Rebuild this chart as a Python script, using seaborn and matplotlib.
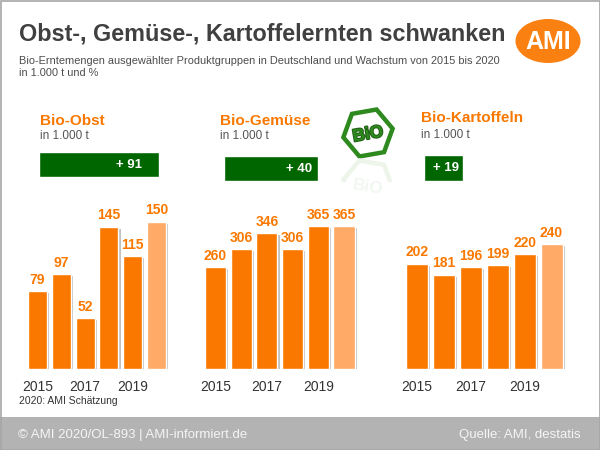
import numpy as np
import pandas as pd
import matplotlib
matplotlib.use("Agg")
import matplotlib.pyplot as plt
import matplotlib.patheffects as pe
from matplotlib.patches import Rectangle, Ellipse, Polygon
import seaborn as sns

# ---------------- data ----------------
years = ["2015", "2016", "2017", "2018", "2019", "2020"]
obst = [79, 97, 52, 145, 115, 150]
gemuese = [260, 306, 346, 306, 365, 365]
kartoffeln = [202, 181, 196, 199, 220, 240]
growth = [91, 40, 19]
panel_titles = ["Bio-Obst", "Bio-Gemüse", "Bio-Kartoffeln"]
unit_label = "in 1.000 t"
title = "Obst-, Gemüse-, Kartoffelernten schwanken"
subtitle = ("Bio-Erntemengen ausgewählter Produktgruppen in Deutschland und Wachstum von 2015 bis 2020\n"
            "in 1.000 t und %")
note = "2020: AMI Schätzung"
footer_left = "© AMI 2020/OL-893 | AMI-informiert.de"
footer_right = "Quelle: AMI, destatis"

# ---------------- style ----------------
sns.set_theme(style="white")
plt.rcParams["font.family"] = ["Liberation Sans", "DejaVu Sans"]

ORANGE = "#FA7800"
ORANGE_LIGHT = "#FFAA66"
GREEN = "#006600"
LOGO_GREEN = "#2E8A1F"
DARK = "#404040"
W, H = 600, 450

fig = plt.figure(figsize=(6, 4.5), dpi=100)
fig.patch.set_facecolor("white")


def px_axes(left, top, right, bottom, z=2):
    ax = fig.add_axes([left / W, 1 - bottom / H, (right - left) / W, (bottom - top) / H])
    ax.set_zorder(z)
    ax.patch.set_alpha(0)
    return ax


# background / decoration layer in pixel coordinates
bg = fig.add_axes([0, 0, 1, 1])
bg.set_zorder(0)
bg.set_xlim(0, W)
bg.set_ylim(H, 0)
bg.axis("off")

bg.add_patch(Rectangle((0, 417), W, 33, facecolor="#B3B3B3", edgecolor="none"))
bg.add_patch(Rectangle((0.5, 0.5), W - 1, H - 1, fill=False, edgecolor="#A6A6A6", lw=1.2))

bg.text(19, 34, title, fontsize=16.8, fontweight="bold", color=DARK, ha="left", va="center")
bg.text(19, 67, subtitle, fontsize=7.9, color="#4D4D4D", ha="left", va="center", linespacing=1.3)

bg.add_patch(Ellipse((548, 41), 65, 44, facecolor="#F98011", edgecolor="none"))
bg.text(548, 42, "AMI", fontsize=18, fontweight="bold", color="white", ha="center", va="center")

# BIO logo (hexagon, pixel coordinates)
cx, cy, rad = 368, 133, 25
ang = np.deg2rad(np.arange(6) * 60 - 10)
hex_pts = np.column_stack([cx + rad * np.cos(ang), cy + rad * np.sin(ang)])
bg.add_patch(Polygon(hex_pts, closed=True, facecolor="white", edgecolor=LOGO_GREEN, lw=3.2,
                     joinstyle="miter"))
bg.text(cx, cy + 1.5, "BiO", fontsize=12.5, fontweight="bold", color=LOGO_GREEN,
        ha="center", va="center", rotation=10,
        path_effects=[pe.withStroke(linewidth=1.4, foreground="#1E5E12")])
axis_y = hex_pts[:, 1].max() + 2
refl_pts = hex_pts.copy()
refl_pts[:, 1] = 2 * axis_y - refl_pts[:, 1]
refl = Polygon(refl_pts, closed=True, facecolor="none", edgecolor="#EDF5EB", lw=3.2)
bg.add_patch(refl)
refl.set_clip_path(Rectangle((330, axis_y), 80, 24, transform=bg.transData))
rtxt = bg.text(cx, 2 * axis_y - cy + 3, "BiO", fontsize=12.5, fontweight="bold", color="#F1F7F0",
               ha="center", va="center", rotation=-10)
rtxt.set_clip_path(Rectangle((330, axis_y), 80, 24, transform=bg.transData))

bg.text(19, 401, note, fontsize=7.5, color="#333333", ha="left", va="center")
bg.text(18, 435, footer_left, fontsize=9.5, color="#F5F5F5", ha="left", va="center")
bg.text(581, 435, footer_right, fontsize=9.5, color="#F5F5F5", ha="right", va="center")

# panel headers
header_pos = [(40, 121, 136), (220, 121, 136), (421, 118, 135)]
for (x, yt, yu), t in zip(header_pos, panel_titles):
    bg.text(x, yt, t, fontsize=11, fontweight="bold", color=ORANGE, ha="left", va="center")
    bg.text(x, yu, unit_label, fontsize=8.5, color="#555555", ha="left", va="center")

shadow = [pe.SimplePatchShadow(offset=(1.5, -1.5), shadow_rgbFace="#777777", alpha=0.45), pe.Normal()]

# green growth boxes
box_ext = [(39, 152, 159, 177), (224, 156, 318, 181), (424, 155, 463, 181)]
text_inset = [12, 4, 3]
for (l, t, r, b), g, ins in zip(box_ext, growth, text_inset):
    ax = px_axes(l, t, r, b, z=3)
    sns.barplot(x=[g], y=[0], orient="h", color=GREEN, width=1.0, ax=ax, saturation=1)
    ax.set_xlim(0, g)
    ax.set_ylim(0.5, -0.5)
    ax.axis("off")
    for p in ax.patches:
        p.set_path_effects(shadow)
    ax.annotate(f"+ {g}", xy=(g, 0), xytext=(-ins, 0), textcoords="offset points",
                ha="right", va="center", color="white", fontsize=9.5, fontweight="bold")

# bar panels
panels = [
    (obst, (25.6, 168.4), 172, 0.80),
    (gemuese, (202.6, 356.9), 431, 0.82),
    (kartoffeln, (403.5, 565.0), 324, 0.82),
]
palette = [ORANGE] * 5 + [ORANGE_LIGHT]
for vals, (l, r), ytop, wd in panels:
    ax = px_axes(l, 200, r, 369)
    df = pd.DataFrame({"Jahr": years, "Menge": vals})
    sns.barplot(data=df, x="Jahr", y="Menge", hue="Jahr", order=years, hue_order=years,
                palette=palette, saturation=1, width=wd, legend=False, ax=ax)
    ax.set_ylim(0, ytop)
    ax.set_xlim(-0.5, 5.5)
    for p in ax.patches:
        p.set_path_effects(shadow)
    for c in ax.containers:
        ax.bar_label(c, fmt="%d", padding=3, color=ORANGE, fontsize=10, fontweight="bold")
    ax.set_xticks([0, 2, 4])
    ax.set_xticklabels(years[0::2], fontsize=10, color="#333333")
    ax.tick_params(axis="x", length=0, pad=8)
    ax.set_yticks([])
    ax.set_xlabel("")
    ax.set_ylabel("")
    sns.despine(ax=ax, left=True, bottom=True)

fig.savefig("out.png", dpi=100, facecolor="white")
